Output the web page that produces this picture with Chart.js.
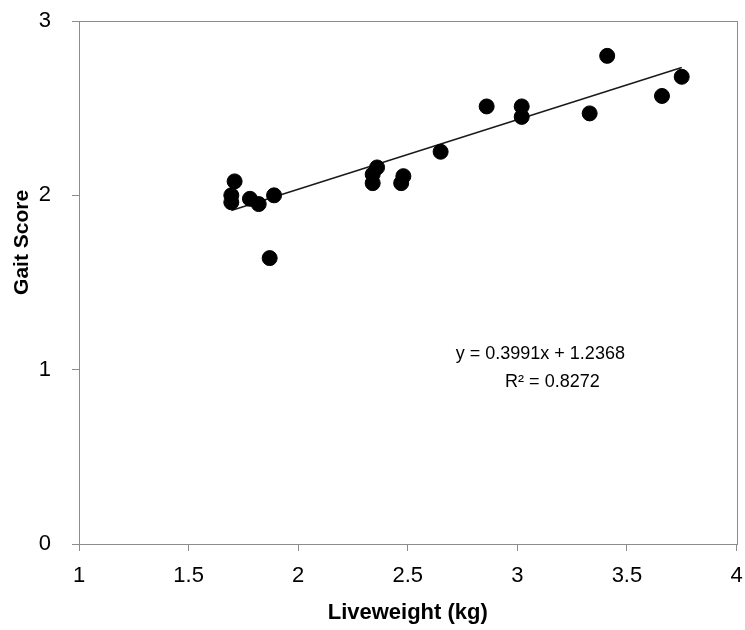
<!DOCTYPE html>
<html>
<head>
<meta charset="utf-8">
<script src="https://cdn.jsdelivr.net/npm/chart.js@4"></script>
<style>
html,body{margin:0;padding:0;background:#fff;}
#wrap{width:745px;height:630px;position:relative;}
</style>
</head>
<body>
<div id="wrap"><canvas id="c" width="745" height="630"></canvas></div>
<script>
const liveweight = [1.71,1.695,1.695,1.78,1.82,1.89,1.87,2.36,2.34,2.34,2.48,2.47,2.65,2.86,3.02,3.02,3.33,3.41,3.66,3.75];
const gaitScore  = [2.08,2.00,1.96,1.98,1.95,2.00,1.64,2.16,2.12,2.07,2.11,2.07,2.25,2.51,2.51,2.45,2.47,2.80,2.57,2.68];
const slope = 0.3991;
const intercept = 1.2368;
const equationText = "y = 0.3991x + 1.2368";
const r2Text = "R\u00b2 = 0.8272";
const xTitle = "Liveweight (kg)";
const yTitle = "Gait Score";

const points = liveweight.map((x,i)=>({x:x,y:gaitScore[i]}));
const xMin = Math.min(...liveweight), xMax = Math.max(...liveweight);
const trend = [{x:xMin,y:slope*xMin+intercept},{x:xMax,y:slope*xMax+intercept}];

const FONT = "'Liberation Sans', Arial, sans-serif";

const frame = {
  id:'frame',
  beforeDatasetsDraw(chart){
    const a = chart.chartArea, ctx = chart.ctx;
    ctx.save();
    ctx.strokeStyle = '#8c8c8c';
    ctx.lineWidth = 1;
    ctx.strokeRect(Math.round(a.left)+0.5, Math.round(a.top)+0.5, Math.round(a.right-a.left), Math.round(a.bottom-a.top));
    ctx.restore();
  },
  afterDraw(chart){
    const ctx = chart.ctx;
    const xs = chart.scales.x, ys = chart.scales.y;
    ctx.save();
    ctx.fillStyle = '#000';
    ctx.font = "18px " + FONT;
    ctx.textAlign = 'center';
    ctx.textBaseline = 'middle';
    ctx.fillText(equationText, xs.getPixelForValue(3.105), ys.getPixelForValue(1.09));
    ctx.fillText(r2Text, xs.getPixelForValue(3.16), ys.getPixelForValue(0.93));
    ctx.translate(22, ys.getPixelForValue(1.73));
    ctx.rotate(-Math.PI/2);
    ctx.font = "bold 21px " + FONT;
    ctx.fillText(yTitle, 0, 0);
    ctx.restore();
  }
};

new Chart(document.getElementById('c'), {
  type:'scatter',
  data:{
    datasets:[
      {
        type:'line',
        data:trend,
        borderColor:'#1a1a1a',
        borderWidth:1.5,
        pointRadius:0,
        fill:false,
        order:2
      },
      {
        data:points,
        backgroundColor:'#000',
        borderColor:'#000',
        pointRadius:7.5,
        pointHoverRadius:7.5,
        order:1
      }
    ]
  },
  plugins:[frame],
  options:{
    responsive:false,
    animation:false,
    devicePixelRatio:1,
    layout:{padding:{left:0,right:7,top:21,bottom:0}},
    plugins:{legend:{display:false},tooltip:{enabled:false}},
    scales:{
      x:{
        type:'linear',
        min:1,max:4,
        afterFit(s){ s.height = 86; s.paddingLeft = 0; s.paddingRight = 0; },
        ticks:{stepSize:0.5,color:'#000',font:{family:FONT,size:22},padding:12,maxRotation:0,
          callback:(v)=>String(v)},
        grid:{drawOnChartArea:false,drawTicks:true,tickLength:7,color:'#8c8c8c'},
        border:{color:'#8c8c8c'},
        title:{display:true,text:xTitle,color:'#000',font:{family:FONT,size:22,weight:'bold'},padding:{top:0,bottom:4}}
      },
      y:{
        type:'linear',
        min:0,max:3,
        afterFit(s){ s.width = 79; s.paddingTop = 0; s.paddingBottom = 0; },
        ticks:{stepSize:1,color:'#000',font:{family:FONT,size:22},padding:21},
        grid:{drawOnChartArea:false,drawTicks:true,tickLength:7,color:'#8c8c8c'},
        border:{color:'#8c8c8c'}
      }
    }
  }
});
</script>
</body>
</html>
